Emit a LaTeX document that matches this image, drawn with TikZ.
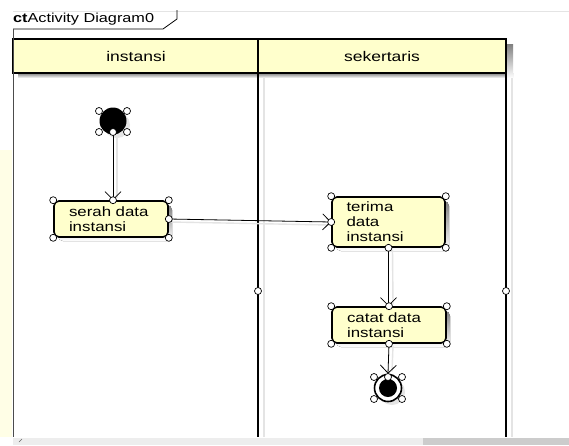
\documentclass[tikz,border=0pt]{standalone}
\usepackage{fontspec}
\setmainfont{Liberation Sans}[FakeStretch=1.25]
\usetikzlibrary{arrows.meta,calc}
\definecolor{umlyellow}{RGB}{255,255,204}
\definecolor{shade}{RGB}{214,214,214}
\definecolor{lightshade}{RGB}{228,228,228}
\tikzset{
  px/.style={x=1pt,y=-1pt},
  action/.style={draw=black,line width=1.6pt,fill=umlyellow,rounded corners=5pt,
    minimum width=114pt,align=left,inner sep=0pt,text width=84pt,
    font=\fontsize{13.5}{15}\selectfont},
  handle/.style={circle,draw=black,fill=white,line width=0.7pt,minimum size=7pt,inner sep=0pt},
  flow/.style={draw=black,line width=0.8pt,-{Straight Barb[length=8pt,width=16pt,line width=0.8pt]}},
  flowshadow/.style={draw=lightshade,line width=1.4pt},
  lanetext/.style={font=\fontsize{14}{15}\selectfont}
}
\begin{document}
\begin{tikzpicture}[px]
\useasboundingbox (0,0) rectangle (569,445);
\fill[white] (0,0) rectangle (569,445);
% faint margin tint
\fill[yellow!10] (0,150) rectangle (12,437);
% diagram frame and its name tag
\draw[lightshade,line width=0.8pt] (13,11) -- (569,11);
\draw[black,line width=0.8pt] (13,29) -- (163,29) -- (177,19) -- (177,10);
\node[anchor=west,inner sep=0pt,font=\fontsize{13}{14}\selectfont] (frametag) at (13,19)
  {\textbf{ct}Activity Diagram0};
% swimlane shadows
\fill[shade] (18,73) rectangle (513,78);
\fill[shade] (507,44) rectangle (513,78);
\draw[lightshade,line width=2pt] (264,78) -- (264,437);
\draw[lightshade,line width=2pt] (512,78) -- (512,437);
% swimlane headers
\draw[black,line width=1.4pt,fill=umlyellow] (13,39) rectangle (506,73);
\node[lanetext] (laneA) at (136,56) {instansi};
\node[lanetext] (laneB) at (382,56) {sekertaris};
% swimlane borders
\draw[black!70,line width=0.8pt] (13,29) -- (13,437);
\draw[black,line width=2.6pt] (258,39) -- (258,437);
\draw[black,line width=2.6pt] (506,39) -- (506,437);
\node[handle] (divA) at (258,291) {};
\node[handle] (divB) at (506,291) {};
% initial node
\fill[lightshade] (117,125) circle (13);
\node[circle,fill=black,minimum size=27pt,inner sep=0pt] (start) at (113,121) {};
% actions
\fill[shade,rounded corners=5pt] (58,205) rectangle (172,241);
\node[action,minimum height=36pt] (serah) at (111,219) {serah data\\instansi};
\fill[shade,rounded corners=5pt] (336,201) rectangle (449,251);
\node[action,minimum height=50pt,minimum width=113pt] (terima) at (388.5,222) {terima\\data\\instansi};
\fill[shade,rounded corners=5pt] (336,311) rectangle (450,347);
\node[action,minimum height=36pt] (catat) at (389,325) {catat data\\instansi};
% final node
\fill[lightshade] (392,392) circle (13);
\node[circle,draw=black,fill=white,line width=1.6pt,minimum size=27pt,inner sep=0pt] (final) at (388,388) {};
\fill[black] (final.center) circle (9);
% control flows
\draw[flowshadow] ($(start.south)+(4,2)$) -- ($(serah.north -| start.south)+(4,-2)$);
\draw[flow] (start.south) -- (serah.north -| start.south);
\draw[flowshadow] ($(serah.east)+(2,3)$) -- ($(terima.west)+(-2,3)$);
\draw[flow] (serah.east) -- (terima.west);
\draw[flowshadow] ($(terima.south)+(4,2)$) -- ($(catat.north)+(4,-2)$);
\draw[flow] (terima.south) -- (catat.north -| terima.south);
\draw[flowshadow] ($(catat.south)+(4,2)$) -- ($(final.north)+(4,-2)$);
\draw[flow] (catat.south) -- (final.north);
% selection handles
\foreach \p in {(99,111),(127,111),(99,132),(113,132),(127,132)} \node[handle] at \p {};
\foreach \a in {north west,north east,south west,south east,east} \node[handle] at (serah.\a) {};
\node[handle] at (serah.north -| start.south) {};
\foreach \a in {north west,north east,south west,south east,west,south} \node[handle] at (terima.\a) {};
\foreach \a in {north west,north east,south west,south east,north,south} \node[handle] at (catat.\a) {};
\foreach \p in {(374,377),(388,377),(402,377),(374,399),(402,399)} \node[handle] at \p {};
% scroll bar
\fill[black!7] (13,438) rectangle (569,445);
\fill[black!20] (423,438) rectangle (569,445);
\draw[black!60,line width=0.6pt] (22,439) -- (19,442);
\end{tikzpicture}
\end{document}
